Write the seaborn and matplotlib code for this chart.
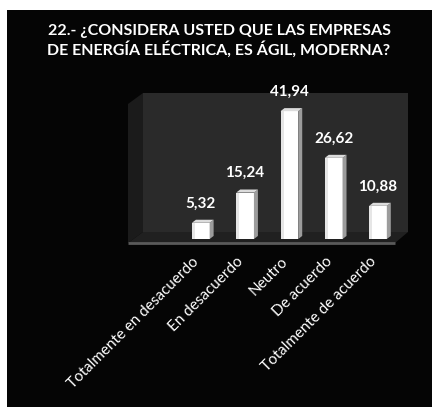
import matplotlib
matplotlib.use("Agg")
import matplotlib.pyplot as plt
import seaborn as sns
from matplotlib.patches import Polygon, Rectangle
from matplotlib.transforms import ScaledTranslation

# datos
categorias = ["Totalmente en desacuerdo", "En desacuerdo", "Neutro",
              "De acuerdo", "Totalmente de acuerdo"]
valores = [5.32, 15.24, 41.94, 26.62, 10.88]
etiquetas = ["5,32", "15,24", "41,94", "26,62", "10,88"]
titulo = "22.- ¿CONSIDERA USTED QUE LAS EMPRESAS\nDE ENERGÍA ELÉCTRICA, ES ÁGIL, MODERNA?"

sns.set_theme(style="white")
plt.rcParams['font.family'] = ['Lato', 'DejaVu Sans']

fig = plt.figure(figsize=(4.37, 4.07), dpi=100, facecolor="white")
# fondo negro (con borde blanco arriba e izquierda como en la imagen)
fondo = Rectangle((7 / 437, 0), 425 / 437, 397 / 407,
                  transform=fig.transFigure, facecolor="#050505",
                  edgecolor="none", zorder=-10)
fig.add_artist(fondo)

ax = fig.add_axes([128 / 437, 1 - 243 / 407, 280 / 437, 150 / 407])
ax.set_facecolor("none")
ax.set_zorder(1)

# paredes y piso pseudo 3D (coordenadas de ejes)
bx, by = 15 / 280, 11 / 150
ax.add_patch(Rectangle((bx, by), 1 - bx, 1 - by, transform=ax.transAxes,
                       facecolor="#2a2a2a", edgecolor="none", zorder=0))
ax.add_patch(Polygon([(0, 0), (bx, by), (bx, 1), (0, 1 - by)], closed=True,
                     transform=ax.transAxes, facecolor="#1b1b1b",
                     edgecolor="none", zorder=0))
ax.add_patch(Polygon([(0, 0), (267 / 280, 0), (1, by), (bx, by)], closed=True,
                     transform=ax.transAxes, facecolor="#202020",
                     edgecolor="none", zorder=0))
ax.plot([0, 267 / 280], [0, 0], transform=ax.transAxes, color="#5a5a5a",
        lw=2, solid_capstyle="butt", clip_on=False, zorder=1)

sns.barplot(x=categorias, y=valores, color="white", width=0.4,
            saturation=1, ax=ax, zorder=3)

ax.set_xlim(-1.643, 4.678)
ax.set_ylim(-1.31, 47.9)

# caras laterales y superiores de las barras
dx, dy = 0.09, 1.0
barras = [p for p in ax.patches if isinstance(p, Rectangle) and p.get_zorder() == 3]
for p in barras:
    x0 = p.get_x()
    x1 = x0 + p.get_width()
    h = p.get_height()
    p.set_edgecolor("none")
    ax.add_patch(Polygon([(x1, 0), (x1 + dx, dy), (x1 + dx, h + dy), (x1, h)],
                         closed=True, facecolor="#9c9c9c", edgecolor="none",
                         zorder=4))
    ax.add_patch(Polygon([(x0, h), (x1, h), (x1 + dx, h + dy), (x0 + dx, h + dy)],
                         closed=True, facecolor="#dcdcdc", edgecolor="none",
                         zorder=4))
    ax.add_patch(Rectangle((x0, 0), (x1 - x0) * 0.18, h, facecolor="#e6e6e6",
                           edgecolor="none", zorder=4))

for i, (v, t) in enumerate(zip(valores, etiquetas)):
    ax.annotate(t, (i, v), xytext=(0, 14), textcoords="offset points",
                ha="center", va="center", color="white", fontsize=11,
                fontweight="bold")

ax.set_ylabel("")
ax.set_yticks([])
ax.tick_params(axis="x", length=0, pad=12, colors="white")
desplaz = ScaledTranslation(-4 / 100, 0, fig.dpi_scale_trans)
for lab in ax.get_xticklabels():
    lab.set_rotation(45)
    lab.set_ha("right")
    lab.set_va("center")
    lab.set_rotation_mode("anchor")
    lab.set_fontsize(11)
    lab.set_color("white")
    lab.set_transform(lab.get_transform() + desplaz)
for s in ax.spines.values():
    s.set_visible(False)

fig.text(219 / 437, 1 - 41 / 407, titulo, ha="center", va="center",
         color="white", fontsize=11.5, fontweight="bold", linespacing=1.2)

fig.savefig("out.png", dpi=100, facecolor=fig.get_facecolor())
